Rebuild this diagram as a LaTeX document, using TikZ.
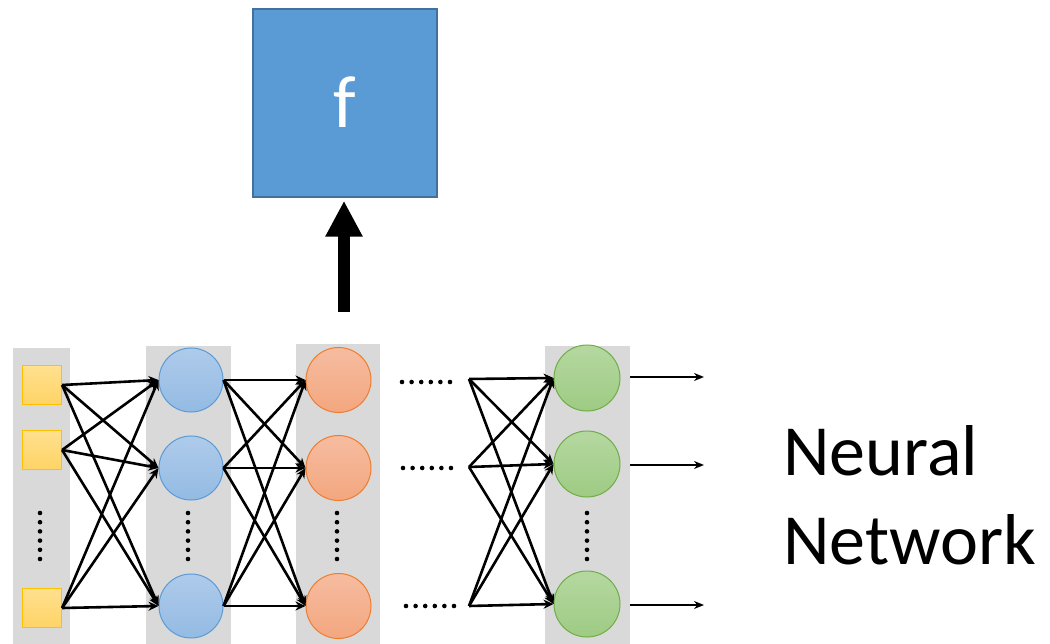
\documentclass[tikz,border=0pt]{standalone}
\usepackage{fontspec}
\setmainfont{Carlito}
\usetikzlibrary{arrows.meta}
\definecolor{colgray}{HTML}{D9D9D9}
\definecolor{fblue}{HTML}{5B9BD5}
\definecolor{fborder}{HTML}{41719C}
\definecolor{sqtop}{HTML}{FFE08F}
\definecolor{sqbot}{HTML}{FFD466}
\definecolor{sqline}{HTML}{FFC000}
\definecolor{btop}{HTML}{AECBEB}
\definecolor{bbot}{HTML}{94BBE3}
\definecolor{bline}{HTML}{5B9BD5}
\definecolor{otop}{HTML}{F6BCA0}
\definecolor{obot}{HTML}{F3A77F}
\definecolor{oline}{HTML}{ED7D31}
\definecolor{gtop}{HTML}{B5D8A0}
\definecolor{gbot}{HTML}{9ECB84}
\definecolor{gline}{HTML}{70AD47}
\tikzset{
  inbox/.style={rectangle, minimum size=39pt, inner sep=0pt, draw=sqline, line width=1.2pt, top color=sqtop, bottom color=sqbot},
  bluenode/.style={circle, minimum size=64pt, inner sep=0pt, draw=bline, line width=1pt, top color=btop, bottom color=bbot},
  orangenode/.style={circle, minimum size=65pt, inner sep=0pt, draw=oline, line width=1pt, top color=otop, bottom color=obot},
  greennode/.style={circle, minimum size=66pt, inner sep=0pt, draw=gline, line width=1pt, top color=gtop, bottom color=gbot},
  layerbg/.style={fill=colgray, draw=none},
  link/.style={line width=2.6pt, -{Stealth[length=10pt,width=9pt]}},
  outlink/.style={line width=2.2pt, -{Stealth[length=10pt,width=8pt]}},
  dot/.style={circle, fill=black, inner sep=0pt, minimum size=4.6pt},
}
\begin{document}
\begin{tikzpicture}[x=1pt, y=-1pt]
\useasboundingbox (0,0) rectangle (1050,644);

% layer backgrounds
\fill[layerbg] (13,348) rectangle (70,644);
\fill[layerbg] (146,346) rectangle (231,644);
\fill[layerbg] (296,344) rectangle (380,644);
\fill[layerbg] (545,346) rectangle (630,644);

% function box and its input arrow
\node[rectangle, minimum width=184pt, minimum height=188pt, inner sep=0pt,
      fill=fblue, draw=fborder, line width=1.5pt] (fbox) at (345,103) {};
\node[text=white, font=\fontsize{74}{80}\selectfont, anchor=base] (flabel) at (345,128) {f};
\coordinate (arrowbase) at (344,312);
\draw[line width=12pt, -{Triangle[length=36pt,width=35pt]}, shorten >=3pt]
  (arrowbase) -- (arrowbase |- fbox.south);

% input layer
\node[inbox] (y1) at (42,385) {};
\node[inbox] (y2) at (42,450) {};
\node[inbox] (y3) at (42,608) {};

% first hidden layer
\node[bluenode] (b1) at (191,380) {};
\node[bluenode] (b2) at (191,468) {};
\node[bluenode] (b3) at (191,606) {};

% second hidden layer
\node[orangenode] (o1) at (338.5,380) {};
\node[orangenode] (o2) at (338.5,468) {};
\node[orangenode] (o3) at (338.5,606) {};

% output layer
\node[greennode] (g1) at (587,378) {};
\node[greennode] (g2) at (587,464) {};
\node[greennode] (g3) at (587,604) {};

% start points of the last set of links
\coordinate (s1) at (469,379);
\coordinate (s2) at (469,467);
\coordinate (s3) at (469,606);

% vertical ellipses inside the layers
\foreach \cx/\nm in {40/va, 188/vb, 337/vc, 587/vd}{
  \foreach \k in {0,...,5}{
    \node[dot] (\nm\k) at (\cx, 513+9.2*\k) {};
  }
}
% horizontal ellipses between layers
\foreach \cy/\xs/\nm in {382/402/ha, 468/403/hb, 606/406/hc}{
  \foreach \k in {0,...,5}{
    \node[dot] (\nm\k) at (\xs+9.6*\k, \cy) {};
  }
}

% fully connected links
\foreach \a in {1,2,3}{
  \foreach \b in {1,2,3}{
    \draw[link] (y\a.east) -- (b\b.west);
    \draw[link] (b\a.east) -- (o\b.west);
    \draw[link] (s\a) -- (g\b.west);
  }
}

% outputs
\coordinate (t1) at (630,377);
\coordinate (t2) at (630,465);
\coordinate (t3) at (630,605);
\coordinate (u1) at (704,377);
\coordinate (u2) at (704,465);
\coordinate (u3) at (704,605);
\foreach \i in {1,2,3}{
  \draw[outlink] (t\i) -- (u\i);
}

% caption
\node[anchor=base west, font=\fontsize{72}{89}\selectfont, inner sep=0pt] (cap1) at (783,475) {Neural};
\node[anchor=base west, font=\fontsize{72}{89}\selectfont, inner sep=0pt] (cap2) at (783,564) {Network};
\end{tikzpicture}
\end{document}
